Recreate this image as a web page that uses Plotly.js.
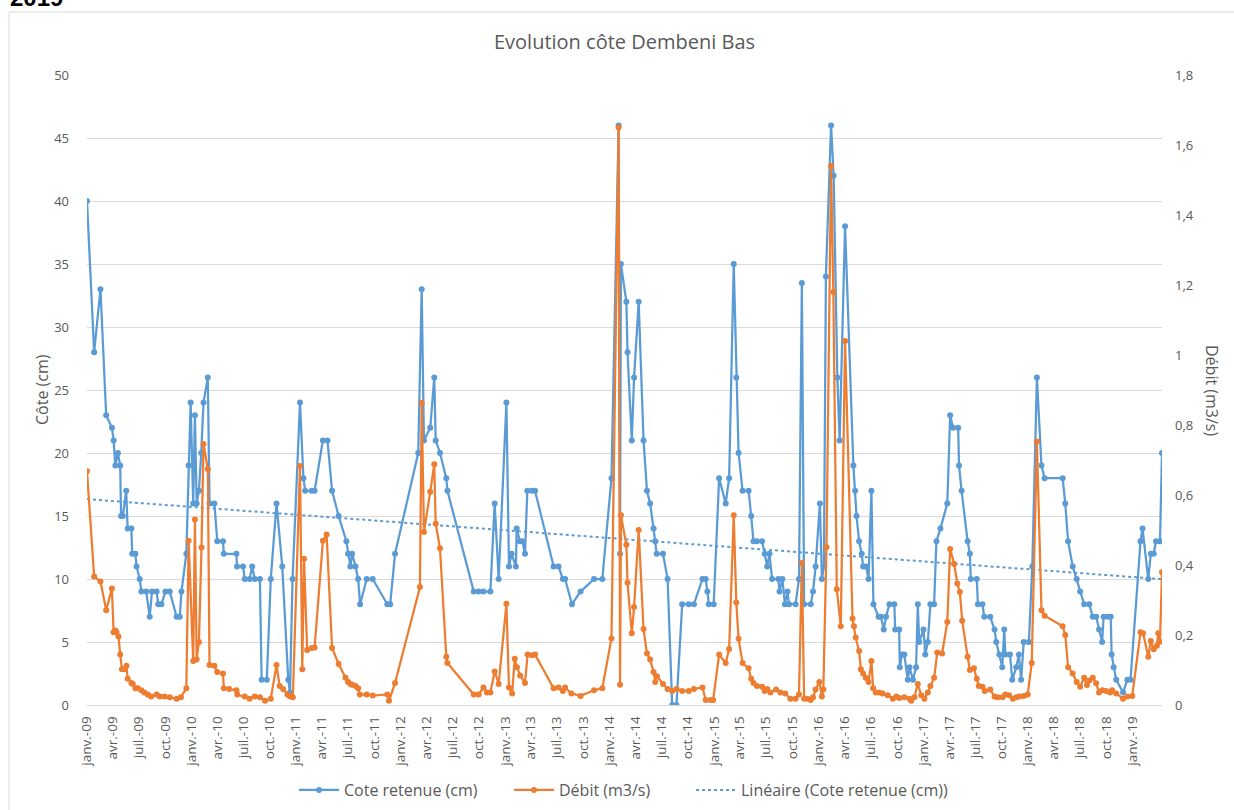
<!DOCTYPE html>
<html>
<head>
<meta charset="utf-8">
<script src="https://cdn.plot.ly/plotly-3.0.1.min.js"></script>
<style>html,body{margin:0;padding:0;background:#fff;}#chart{width:1234px;height:810px;}</style>
</head>
<body>
<div id="chart"></div>
<script>
const coteDates = ['2009-01-01','2009-01-26','2009-02-17','2009-03-09','2009-03-29','2009-04-04','2009-04-10','2009-04-19','2009-04-27','2009-04-30','2009-05-06','2009-05-18','2009-05-23','2009-06-05','2009-06-08','2009-06-19','2009-06-23','2009-07-04','2009-07-10','2009-07-27','2009-08-08','2009-08-16','2009-09-01','2009-09-07','2009-09-18','2009-10-02','2009-10-17','2009-11-10','2009-11-21','2009-11-27','2009-12-14','2009-12-22','2009-12-29','2010-01-07','2010-01-13','2010-01-19','2010-01-27','2010-02-04','2010-02-12','2010-02-27','2010-03-05','2010-03-22','2010-04-01','2010-04-21','2010-04-24','2010-06-07','2010-06-09','2010-06-30','2010-07-06','2010-07-23','2010-08-01','2010-08-10','2010-08-28','2010-09-03','2010-09-21','2010-10-05','2010-10-25','2010-11-14','2010-12-05','2010-12-11','2010-12-20','2011-01-15','2011-01-27','2011-02-02','2011-02-25','2011-03-07','2011-04-05','2011-04-21','2011-05-07','2011-05-30','2011-06-26','2011-07-02','2011-07-10','2011-07-16','2011-07-28','2011-08-06','2011-08-13','2011-09-05','2011-09-26','2011-11-16','2011-11-26','2011-12-13','2012-03-03','2012-03-15','2012-03-23','2012-04-14','2012-04-28','2012-05-03','2012-05-18','2012-06-09','2012-06-13','2012-09-13','2012-09-30','2012-10-17','2012-11-10','2012-11-25','2012-12-09','2013-01-05','2013-01-14','2013-01-23','2013-02-07','2013-02-10','2013-02-21','2013-03-02','2013-03-11','2013-03-19','2013-04-04','2013-04-15','2013-06-19','2013-07-06','2013-07-21','2013-07-29','2013-08-22','2013-09-21','2013-11-07','2013-12-06','2014-01-07','2014-02-01','2014-02-06','2014-02-09','2014-02-28','2014-03-04','2014-03-19','2014-03-27','2014-04-12','2014-04-29','2014-05-11','2014-05-22','2014-06-03','2014-06-09','2014-06-14','2014-07-06','2014-07-22','2014-08-07','2014-08-22','2014-09-11','2014-10-04','2014-10-22','2014-11-21','2014-12-02','2014-12-08','2014-12-13','2014-12-30','2015-01-18','2015-02-10','2015-02-22','2015-03-10','2015-03-19','2015-03-27','2015-04-10','2015-05-01','2015-05-10','2015-05-18','2015-05-30','2015-06-17','2015-06-26','2015-07-05','2015-07-13','2015-07-22','2015-08-13','2015-08-17','2015-08-27','2015-09-05','2015-09-14','2015-09-19','2015-10-12','2015-10-24','2015-11-03','2015-11-11','2015-12-04','2015-12-12','2015-12-21','2016-01-05','2016-01-12','2016-01-19','2016-01-26','2016-02-13','2016-02-22','2016-03-06','2016-03-14','2016-04-02','2016-05-01','2016-05-07','2016-05-12','2016-05-21','2016-05-30','2016-06-04','2016-06-14','2016-06-23','2016-07-03','2016-07-10','2016-07-28','2016-08-05','2016-08-15','2016-08-23','2016-09-04','2016-09-21','2016-09-24','2016-10-08','2016-10-10','2016-10-18','2016-10-26','2016-11-07','2016-11-13','2016-11-25','2016-12-06','2016-12-12','2016-12-17','2017-01-01','2017-01-07','2017-01-16','2017-01-25','2017-02-07','2017-02-15','2017-03-01','2017-03-25','2017-04-04','2017-04-14','2017-05-02','2017-05-05','2017-05-14','2017-06-04','2017-06-12','2017-06-15','2017-07-06','2017-07-10','2017-07-26','2017-08-01','2017-08-22','2017-09-06','2017-09-12','2017-09-23','2017-10-03','2017-10-10','2017-10-14','2017-10-30','2017-11-07','2017-11-21','2017-11-30','2017-12-08','2017-12-17','2018-01-04','2018-01-16','2018-02-01','2018-02-17','2018-02-28','2018-05-02','2018-05-11','2018-05-21','2018-06-06','2018-06-20','2018-07-02','2018-07-16','2018-08-03','2018-08-15','2018-08-27','2018-09-06','2018-09-17','2018-09-22','2018-10-07','2018-10-17','2018-10-20','2018-10-27','2018-11-05','2018-11-29','2018-12-14','2018-12-25','2019-01-29','2019-02-05','2019-02-25','2019-03-06','2019-03-16','2019-03-24','2019-04-07','2019-04-14'];
const cote = [40,28,33,23,22,21,19,20,19,15,15,17,14,14,12,12,11,10,9,9,7,9,9,8,8,9,9,7,7,9,12,19,24,16,23,16,17,20,24,26,16,16,13,13,12,12,11,11,10,10,11,10,10,2,2,10,16,11,2,1,10,24,18,17,17,17,21,21,17,15,13,12,11,12,11,10,8,10,10,8,8,12,20,33,21,22,26,21,20,18,17,9,9,9,9,16,10,24,11,12,11,14,13,13,12,17,17,17,11,11,10,10,8,9,10,10,18,46,12,35,32,28,21,26,32,21,17,16,14,13,12,12,10,0,0,8,8,8,10,10,9,8,8,18,16,18,35,26,20,17,17,15,13,13,13,12,11,12,10,10,9,10,8,9,8,8,10,33.5,8,8,9,11,16,10,11,34,46,42,26,21,38,19,17,15,13,12,11,11,10,17,8,7,7,6,7,8,8,6,6,3,4,4,2,3,2,3,8,5,6,4,5,8,8,13,14,16,23,22,22,19,17,13,12,10,10,8,8,7,7,6,5,4,3,6,4,4,2,3,4,2,5,5,11,26,19,18,18,16,13,11,10,9,8,8,7,7,6,5,7,7,7,4,3,2,1,2,2,13,14,10,12,12,13,13,20];

const debitDates = ['2009-01-01','2009-01-26','2009-02-17','2009-03-09','2009-03-29','2009-04-04','2009-04-10','2009-04-14','2009-04-21','2009-04-27','2009-05-03','2009-05-11','2009-05-19','2009-05-23','2009-06-05','2009-06-10','2009-06-19','2009-06-27','2009-07-10','2009-07-20','2009-08-01','2009-08-13','2009-09-01','2009-09-12','2009-09-29','2009-10-17','2009-11-10','2009-11-25','2009-12-14','2009-12-22','2010-01-07','2010-01-13','2010-01-19','2010-01-27','2010-02-05','2010-02-12','2010-02-27','2010-03-05','2010-03-22','2010-04-01','2010-04-21','2010-04-24','2010-05-13','2010-06-07','2010-06-10','2010-07-06','2010-07-23','2010-08-10','2010-08-28','2010-09-15','2010-10-05','2010-10-25','2010-11-05','2010-11-17','2010-12-02','2010-12-11','2010-12-21','2011-01-15','2011-01-23','2011-01-29','2011-02-09','2011-02-25','2011-03-07','2011-04-05','2011-04-18','2011-05-07','2011-05-30','2011-06-23','2011-07-02','2011-07-10','2011-07-16','2011-07-28','2011-08-06','2011-08-12','2011-09-05','2011-09-26','2011-11-16','2011-11-22','2011-12-13','2012-03-09','2012-03-15','2012-03-23','2012-04-14','2012-04-28','2012-05-03','2012-05-18','2012-06-09','2012-06-13','2012-09-13','2012-09-30','2012-10-17','2012-10-29','2012-11-10','2012-11-25','2012-12-09','2013-01-05','2013-01-14','2013-01-25','2013-02-03','2013-02-11','2013-02-22','2013-03-11','2013-03-20','2013-04-04','2013-04-15','2013-06-19','2013-07-06','2013-07-21','2013-07-29','2013-08-20','2013-09-21','2013-11-07','2013-12-06','2014-01-07','2014-02-01','2014-02-06','2014-02-09','2014-02-28','2014-03-04','2014-03-19','2014-03-27','2014-04-12','2014-04-29','2014-05-11','2014-05-22','2014-06-03','2014-06-09','2014-06-15','2014-07-06','2014-07-22','2014-08-07','2014-08-22','2014-09-11','2014-10-04','2014-10-22','2014-11-21','2014-12-02','2014-12-19','2014-12-28','2015-01-18','2015-02-10','2015-02-22','2015-03-10','2015-03-19','2015-03-27','2015-04-10','2015-05-01','2015-05-10','2015-05-18','2015-05-30','2015-06-17','2015-06-26','2015-07-05','2015-07-16','2015-08-05','2015-08-20','2015-09-06','2015-09-24','2015-10-12','2015-10-24','2015-11-03','2015-11-11','2015-11-22','2015-12-04','2015-12-12','2015-12-21','2016-01-03','2016-01-12','2016-01-17','2016-01-28','2016-02-13','2016-02-21','2016-03-04','2016-03-18','2016-04-02','2016-04-28','2016-05-03','2016-05-09','2016-05-21','2016-05-27','2016-06-04','2016-06-13','2016-06-23','2016-07-03','2016-07-09','2016-07-18','2016-07-30','2016-08-11','2016-08-29','2016-09-16','2016-09-28','2016-10-08','2016-10-26','2016-11-13','2016-11-19','2016-11-30','2016-12-12','2016-12-24','2017-01-04','2017-01-16','2017-01-25','2017-02-07','2017-02-18','2017-03-07','2017-03-25','2017-04-04','2017-04-18','2017-04-29','2017-05-08','2017-05-16','2017-06-04','2017-06-12','2017-06-26','2017-07-06','2017-07-13','2017-07-26','2017-08-03','2017-08-22','2017-09-06','2017-09-17','2017-10-04','2017-10-14','2017-10-27','2017-11-09','2017-11-21','2017-12-02','2017-12-17','2017-12-31','2018-01-14','2018-02-01','2018-02-17','2018-02-28','2018-05-02','2018-05-11','2018-05-21','2018-06-06','2018-06-20','2018-07-02','2018-07-16','2018-07-26','2018-08-03','2018-08-15','2018-08-27','2018-09-06','2018-09-17','2018-10-01','2018-10-15','2018-10-22','2018-11-05','2018-11-29','2018-12-14','2018-12-31','2019-01-29','2019-02-07','2019-02-25','2019-03-06','2019-03-16','2019-03-27','2019-04-01','2019-04-07','2019-04-14'];
const debit = [0.668,0.367,0.353,0.271,0.333,0.208,0.213,0.208,0.196,0.144,0.102,0.102,0.112,0.075,0.063,0.06,0.048,0.048,0.042,0.036,0.030,0.024,0.030,0.024,0.024,0.022,0.018,0.022,0.048,0.469,0.126,0.53,0.13,0.18,0.45,0.746,0.674,0.114,0.112,0.094,0.09,0.048,0.046,0.042,0.030,0.024,0.018,0.024,0.022,0.012,0.018,0.114,0.054,0.046,0.03,0.024,0.022,0.683,0.102,0.418,0.157,0.163,0.164,0.469,0.487,0.163,0.117,0.078,0.066,0.06,0.058,0.054,0.048,0.03,0.030,0.027,0.030,0.012,0.063,0.337,0.863,0.494,0.609,0.688,0.518,0.448,0.138,0.12,0.03,0.03,0.05,0.036,0.036,0.096,0.06,0.289,0.05,0.033,0.132,0.108,0.084,0.063,0.144,0.142,0.144,0.048,0.05,0.04,0.05,0.033,0.026,0.042,0.048,0.19,1.65,0.058,0.542,0.458,0.349,0.205,0.28,0.5,0.217,0.147,0.13,0.094,0.066,0.082,0.06,0.046,0.04,0.046,0.04,0.04,0.046,0.05,0.014,0.014,0.014,0.144,0.12,0.16,0.542,0.293,0.189,0.12,0.105,0.075,0.063,0.054,0.052,0.04,0.046,0.036,0.044,0.036,0.033,0.018,0.018,0.03,0.406,0.018,0.018,0.014,0.022,0.044,0.066,0.024,0.044,0.451,1.54,1.18,0.331,0.225,1.04,0.247,0.225,0.193,0.154,0.102,0.09,0.078,0.066,0.126,0.048,0.036,0.036,0.033,0.028,0.018,0.024,0.020,0.022,0.018,0.012,0.022,0.06,0.028,0.018,0.036,0.054,0.078,0.15,0.147,0.237,0.446,0.403,0.347,0.323,0.241,0.138,0.1,0.105,0.075,0.054,0.052,0.04,0.044,0.024,0.022,0.022,0.03,0.028,0.018,0.022,0.024,0.026,0.03,0.12,0.753,0.271,0.255,0.225,0.2,0.108,0.09,0.066,0.052,0.078,0.057,0.07,0.078,0.062,0.036,0.042,0.04,0.036,0.042,0.033,0.018,0.024,0.026,0.208,0.205,0.138,0.183,0.159,0.169,0.205,0.181,0.379];

const tickDates = ['2009-01-01','2009-04-01','2009-07-01','2009-10-01','2010-01-01','2010-04-01','2010-07-01','2010-10-01','2011-01-01','2011-04-01','2011-07-01','2011-10-01','2012-01-01','2012-04-01','2012-07-01','2012-10-01','2013-01-01','2013-04-01','2013-07-01','2013-10-01','2014-01-01','2014-04-01','2014-07-01','2014-10-01','2015-01-01','2015-04-01','2015-07-01','2015-10-01','2016-01-01','2016-04-01','2016-07-01','2016-10-01','2017-01-01','2017-04-01','2017-07-01','2017-10-01','2018-01-01','2018-04-01','2018-07-01','2018-10-01','2019-01-01'];
const tickLabels = ['janv.-09','avr.-09','juil.-09','oct.-09','janv.-10','avr.-10','juil.-10','oct.-10','janv.-11','avr.-11','juil.-11','oct.-11','janv.-12','avr.-12','juil.-12','oct.-12','janv.-13','avr.-13','juil.-13','oct.-13','janv.-14','avr.-14','juil.-14','oct.-14','janv.-15','avr.-15','juil.-15','oct.-15','janv.-16','avr.-16','juil.-16','oct.-16','janv.-17','avr.-17','juil.-17','oct.-17','janv.-18','avr.-18','juil.-18','oct.-18','janv.-19'];

// Linear trendline (least squares of cote vs date)
const tms = coteDates.map(d => new Date(d + 'T00:00:00Z').getTime());
const n = tms.length;
const mx = tms.reduce((a,b)=>a+b,0)/n, my = cote.reduce((a,b)=>a+b,0)/n;
let sxy = 0, sxx = 0;
for (let i=0;i<n;i++){ sxy += (tms[i]-mx)*(cote[i]-my); sxx += (tms[i]-mx)*(tms[i]-mx); }
const slope = sxy/sxx, icpt = my - slope*mx;
const trendX = [coteDates[0], coteDates[n-1]];
const trendY = [icpt + slope*tms[0], icpt + slope*tms[n-1]];

const BLUE = '#5B9BD5', ORANGE = '#ED7D31', GRID = '#D9D9D9', TXT = '#595959';
const FONT = 'Open Sans, Liberation Sans, sans-serif';

const traces = [
  {x: coteDates, y: cote, type: 'scatter', mode: 'lines+markers', name: 'Cote retenue (cm)', legend: 'legend',
   line: {color: BLUE, width: 2.25}, marker: {color: BLUE, size: 6}, yaxis: 'y'},
  {x: debitDates, y: debit, type: 'scatter', mode: 'lines+markers', name: 'Débit (m3/s)', legend: 'legend2',
   line: {color: ORANGE, width: 2.25}, marker: {color: ORANGE, size: 6}, yaxis: 'y2'},
  {x: trendX, y: trendY, type: 'scatter', mode: 'lines', name: 'Linéaire (Cote retenue (cm))', legend: 'legend3',
   line: {color: BLUE, width: 2, dash: 'dot'}, yaxis: 'y'}
];

const px2x = p => (p - 87) / 1075;
const py2y = p => (705 - p) / 630;
const legBase = {orientation: 'h', xanchor: 'left', xref: 'container', y: 1 - 790/810, yref: 'container', yanchor: 'middle',
                 font: {family: FONT, size: 16, color: TXT}, itemwidth: 40, bgcolor: 'rgba(0,0,0,0)'};

const layout = {
  width: 1234, height: 810,
  margin: {l: 87, r: 72, t: 75, b: 105, autoexpand: false},
  paper_bgcolor: '#fff', plot_bgcolor: '#fff',
  separators: ', ',
  font: {family: FONT, color: TXT, size: 12},
  showlegend: true,
  hovermode: false,
  title: {text: 'Evolution côte Dembeni Bas', font: {family: FONT, size: 20, color: TXT},
          x: 0.5, xref: 'paper', y: 1 - 42/810, yref: 'container', yanchor: 'middle'},
  xaxis: {type: 'date', range: [coteDates[0], coteDates[n-1]], tickmode: 'array',
          tickvals: tickDates, ticktext: tickLabels, tickangle: -90, automargin: false,
          tickfont: {family: FONT, size: 13.5, color: TXT}, showgrid: false, ticklabelstandoff: 5,
          showline: true, linecolor: GRID, linewidth: 1, ticks: '', zeroline: false, fixedrange: true},
  yaxis: {range: [0, 50], tickvals: [0,5,10,15,20,25,30,35,40,45,50], showgrid: true, gridcolor: GRID,
          automargin: false, ticklabelstandoff: 17,
          zeroline: false, showline: false, ticks: '', tickfont: {family: FONT, size: 13, color: TXT}, fixedrange: true},
  yaxis2: {range: [0, 1.8], tickvals: [0,0.2,0.4,0.6,0.8,1,1.2,1.4,1.6,1.8], overlaying: 'y', side: 'right',
           automargin: false, ticklabelstandoff: 12,
           showgrid: false, zeroline: false, showline: false, ticks: '', tickformat: '.1~f',
           tickfont: {family: FONT, size: 13, color: TXT}, fixedrange: true},
  legend: Object.assign({}, legBase, {x: 294 / 1234}),
  legend2: Object.assign({}, legBase, {x: 509 / 1234}),
  legend3: Object.assign({}, legBase, {x: 691 / 1234}),
  annotations: [
    {text: 'Côte (cm)', xref: 'paper', yref: 'paper', x: px2x(42), y: py2y(390), textangle: -90,
     showarrow: false, font: {family: FONT, size: 16, color: TXT}, xanchor: 'center', yanchor: 'middle'},
    {text: 'Débit (m3/s)', xref: 'paper', yref: 'paper', x: px2x(1212), y: py2y(390), textangle: 90,
     showarrow: false, font: {family: FONT, size: 16, color: TXT}, xanchor: 'center', yanchor: 'middle'},
    {text: '<b>2019</b>', xref: 'paper', yref: 'paper', x: px2x(8), y: py2y(13), xanchor: 'left', yanchor: 'bottom',
     showarrow: false, font: {family: 'Liberation Sans Narrow, Liberation Sans, sans-serif', size: 24, color: '#000'}}
  ],
  shapes: [
    {type: 'rect', xref: 'paper', yref: 'paper', x0: px2x(9), x1: px2x(1240), y0: py2y(815), y1: py2y(12),
     line: {color: GRID, width: 1}, fillcolor: 'rgba(0,0,0,0)', layer: 'below'}
  ]
};

Plotly.newPlot('chart', traces, layout, {displayModeBar: false, staticPlot: true});
</script>
</body>
</html>
